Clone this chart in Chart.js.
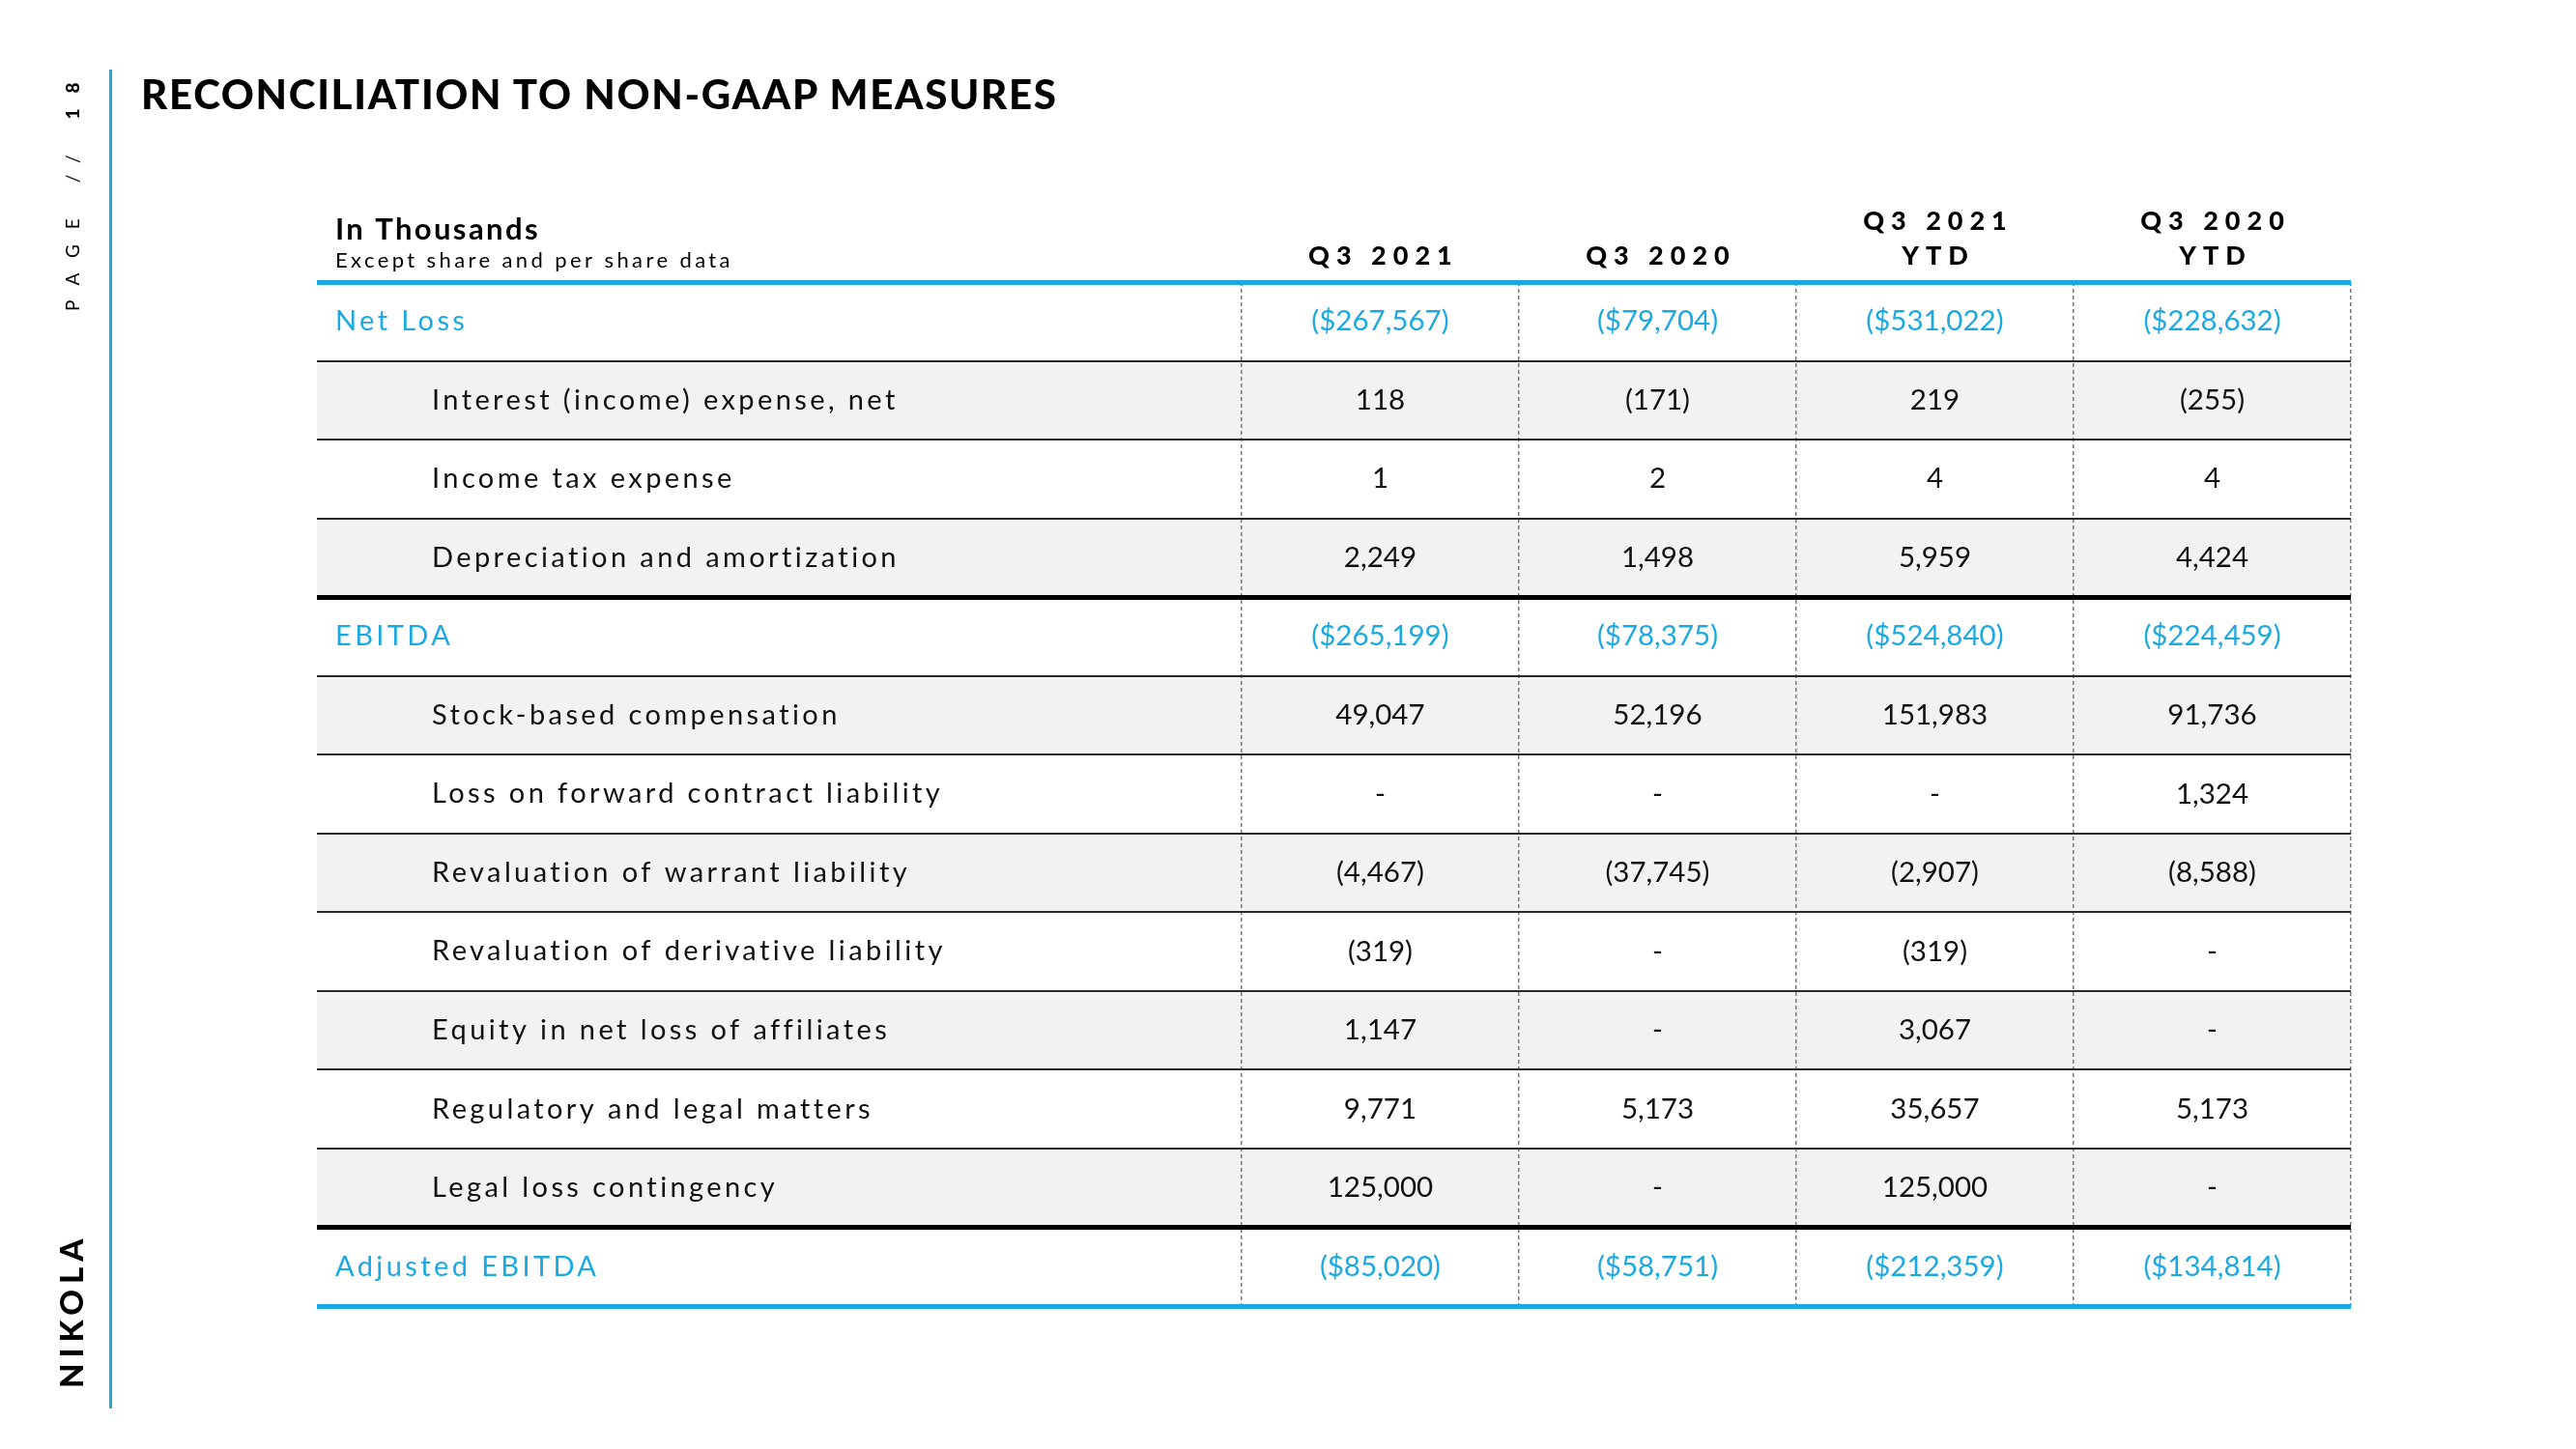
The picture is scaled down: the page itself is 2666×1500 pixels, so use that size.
<!DOCTYPE html>
<html>
<head>
<meta charset="utf-8">
<script src="https://cdn.jsdelivr.net/npm/chart.js@4.4.1/dist/chart.umd.min.js"></script>
<style>
  body { margin: 0; background: #fff; width: 2666px; height: 1500px; overflow: hidden; font-family: Lato, sans-serif; }
  #wrap { position: absolute; left: 0; top: 0; width: 2666px; height: 1500px; }
  #title { position: absolute; left: 146px; top: 76px; font: 900 42px/1 Lato, sans-serif; letter-spacing: 1.7px; color: #000; white-space: nowrap; }
  .side { position: absolute; white-space: nowrap; transform-origin: 0 0; transform: rotate(-90deg); line-height: 1; color: #000; }
  #page { left: 65px; top: 322px; font-size: 19px; letter-spacing: 16px; }
  #page b { font-weight: 900; }
  #logo { left: 57px; top: 1437px; font-size: 33px; font-weight: 900; letter-spacing: 6px; }
  #rule { position: absolute; left: 113px; top: 72px; width: 3px; height: 1386px; background: #1ba9e1; }
</style>
</head>
<body>
<div id="wrap"><canvas id="table"></canvas></div>
<div id="title">RECONCILIATION TO NON-GAAP MEASURES</div>
<div class="side" id="page">PAGE // <b>18</b></div>
<div class="side" id="logo">NIKOLA</div>
<div id="rule"></div>
<script>
const BLUE = '#1ba9e1';

// table content
const rowLabels = [
    'Net Loss',
    'Interest (income) expense, net',
    'Income tax expense',
    'Depreciation and amortization',
    'EBITDA',
    'Stock-based compensation',
    'Loss on forward contract liability',
    'Revaluation of warrant liability',
    'Revaluation of derivative liability',
    'Equity in net loss of affiliates',
    'Regulatory and legal matters',
    'Legal loss contingency',
    'Adjusted EBITDA'
];
const columnHeaders = [['Q3 2021'], ['Q3 2020'], ['Q3 2021', 'YTD'], ['Q3 2020', 'YTD']];

const q3_2021  = [-267567, 118, 1, 2249, -265199, 49047, null, -4467, -319, 1147, 9771, 125000, -85020];
const q3_2020  = [-79704, -171, 2, 1498, -78375, 52196, null, -37745, null, null, 5173, null, -58751];
const ytd_2021 = [-531022, 219, 4, 5959, -524840, 151983, null, -2907, -319, 3067, 35657, 125000, -212359];
const ytd_2020 = [-228632, -255, 4, 4424, -224459, 91736, 1324, -8588, null, null, 5173, null, -134814];
const series = [q3_2021, q3_2020, ytd_2021, ytd_2020];

const totalRows = [0, 4, 12];
const shadedRows = [1, 3, 5, 7, 9, 11];
const heavyLines = [4, 12];

// column boundaries in table units (one unit = one value column)
const colEdges = [0, 3.334, 4.334, 5.334, 6.334, 7.334];
const tableEnd = colEdges[colEdges.length - 1];

function fmt(v, dollar) {
    if (v === null) return '-';
    let s = Math.abs(v).toLocaleString('en-US');
    if (dollar) s = '$' + s;
    return v < 0 ? '(' + s + ')' : s;
}

// first and last horizontal rule are blue; the last one has no tick index
function isEdgeLine(ctx) {
    return ctx.index === 0 || ctx.index === undefined || ctx.index >= rowLabels.length;
}

const tableText = {
    id: 'tableText',
    afterDraw(chart) {
        const { ctx, chartArea, scales: { x, y } } = chart;
        ctx.save();
        ctx.textBaseline = 'middle';

        // header block
        ctx.fillStyle = '#000';
        ctx.textAlign = 'left';
        ctx.font = 'bold 31px Lato';
        ctx.letterSpacing = '2.4px';
        ctx.fillText('In Thousands', x.getPixelForValue(0) + 19, chartArea.top - 54);
        ctx.font = '400 22px Lato';
        ctx.letterSpacing = '3.4px';
        ctx.fillText('Except share and per share data', x.getPixelForValue(0) + 19, chartArea.top - 22);

        ctx.textAlign = 'center';
        ctx.font = '900 27px Lato';
        ctx.letterSpacing = '7px';
        columnHeaders.forEach((lines, c) => {
            const cx = x.getPixelForValue((colEdges[c + 1] + colEdges[c + 2]) / 2) + 3.5;
            lines.slice().reverse().forEach((t, k) => {
                ctx.fillText(t, cx, chartArea.top - 27 - k * 36);
            });
        });

        // rows
        rowLabels.forEach((label, i) => {
            const yy = y.getPixelForValue(i);
            const total = totalRows.includes(i);
            ctx.fillStyle = total ? BLUE : '#111';
            ctx.textAlign = 'left';
            ctx.font = '400 29px Lato';
            ctx.letterSpacing = '3.4px';
            ctx.fillText(label, x.getPixelForValue(0) + (total ? 19 : 119), yy);

            ctx.textAlign = 'center';
            ctx.letterSpacing = '0px';
            ctx.font = '400 29.5px Lato';
            series.forEach((vals, c) => {
                const cx = x.getPixelForValue((colEdges[c + 1] + colEdges[c + 2]) / 2);
                ctx.fillText(fmt(vals[i], total), cx, yy);
            });
        });
        ctx.restore();
    }
};

new Chart(document.getElementById('table'), {
    type: 'bar',
    data: {
        labels: rowLabels,
        datasets: [{
            data: rowLabels.map((r, i) => shadedRows.includes(i) ? [0, tableEnd] : null),
            backgroundColor: '#f2f2f2',
            borderWidth: 0,
            barPercentage: 1,
            categoryPercentage: 1
        }]
    },
    options: {
        indexAxis: 'y',
        responsive: true,
        maintainAspectRatio: false,
        animation: false,
        layout: { padding: { left: 328, top: 292, right: 233, bottom: 148 } },
        plugins: { legend: { display: false }, tooltip: { enabled: false } },
        scales: {
            x: {
                type: 'linear',
                min: 0,
                max: tableEnd,
                afterBuildTicks: s => { s.ticks = colEdges.slice(1).map(v => ({ value: v })); },
                afterFit: s => { s.height = 0; },
                ticks: { display: false },
                border: { display: false, dash: [4, 3] },
                grid: { z: 1, color: '#7a7a7a', lineWidth: 1.5, drawTicks: false }
            },
            y: {
                afterFit: s => { s.width = 0; },
                ticks: { display: false },
                border: { display: false },
                grid: {
                    z: 2,
                    offset: true,
                    drawTicks: false,
                    color: ctx => isEdgeLine(ctx) ? BLUE : (heavyLines.includes(ctx.index) ? '#000' : '#2a2a2a'),
                    lineWidth: ctx => (isEdgeLine(ctx) || heavyLines.includes(ctx.index)) ? 5 : 2
                }
            }
        }
    },
    plugins: [tableText]
});
</script>
</body>
</html>
